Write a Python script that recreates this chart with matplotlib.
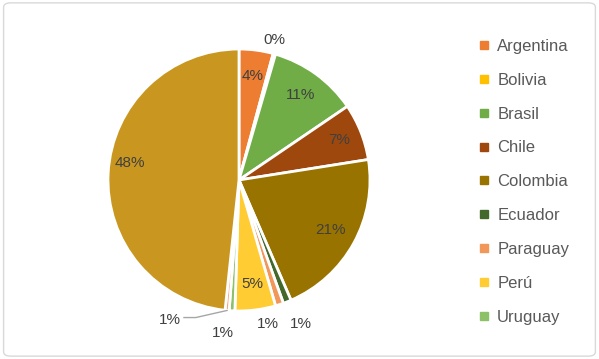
import matplotlib.pyplot as plt
import numpy as np
from matplotlib.lines import Line2D
from matplotlib.patches import FancyBboxPatch

# Datos del gráfico (porcentajes)
paises = ["Argentina", "Bolivia", "Brasil", "Chile", "Colombia",
          "Ecuador", "Paraguay", "Perú", "Uruguay", "Venezuela", "Otros"]
valores = [4.2, 0.3, 11.0, 7.0, 21.0, 1.0, 1.0, 5.0, 0.7, 0.5, 48.3]
etiquetas = ["4%", "0%", "11%", "7%", "21%", "1%", "1%", "5%", "1%", "1%", "48%"]
colores = ["#ED7D31", "#FFC000", "#70AD47", "#9E480E", "#997300",
           "#43682B", "#F1975A", "#FFCD33", "#8CC168", "#F4A47A", "#C9971F"]
# Distancia radial de cada etiqueta (1 = borde del círculo)
dist_etiqueta = [0.80, 1.13, 0.80, 0.82, 0.80, 1.22, 1.14, 0.80, 1.14, 1.10, 0.83]

plt.rcParams["font.family"] = ["Liberation Sans", "DejaVu Sans"]
fig = plt.figure(figsize=(5.99, 3.59), dpi=100)

# Marco del gráfico
marco = FancyBboxPatch((0.006, 0.008), 0.988, 0.984,
                       boxstyle="round,pad=0,rounding_size=0.012",
                       transform=fig.transFigure, facecolor="none",
                       edgecolor="#D9D9D9", linewidth=1, zorder=-1)
fig.patches.append(marco)

ax = fig.add_axes([108/599, 48/359, 262/599, 262/359])
wedges, _ = ax.pie(valores, colors=colores, startangle=90, counterclock=False,
                   radius=1,
                   wedgeprops={"edgecolor": "white", "linewidth": 2})
ax.set_xlim(-1, 1)
ax.set_ylim(-1, 1)
ax.set_aspect("equal")

# Etiquetas de porcentaje
for i, w in enumerate(wedges):
    ang = np.deg2rad((w.theta1 + w.theta2) / 2)
    r = dist_etiqueta[i]
    x, y = r*np.cos(ang), r*np.sin(ang)
    if paises[i] == "Venezuela":
        # Etiqueta con línea guía
        x0, y0 = 1.0*np.cos(ang), 1.0*np.sin(ang)
        ax.plot([x0, -0.33, -0.42], [y0, -1.05, -1.05],
                color="#A6A6A6", lw=1, clip_on=False)
        x, y = -0.53, -1.07
    if paises[i] == "Uruguay":
        x, y = -0.12, -1.17
    if paises[i] == "Paraguay":
        x, y = 0.22, -1.10
    if paises[i] == "Ecuador":
        x, y = 0.47, -1.10
    if paises[i] == "Bolivia":
        x, y = 0.27, 1.07
    if paises[i] == "Otros":
        x, y = -0.83, 0.13
    ax.text(x, y, etiquetas[i], ha="center", va="center",
            fontsize=11, color="#404040")

# Leyenda (solo los nueve primeros países)
handles = [Line2D([], [], marker="s", linestyle="none", markersize=6,
                  markerfacecolor=colores[i], markeredgecolor=colores[i])
           for i in range(9)]
fig.legend(handles, paises[:9], loc="upper left",
           bbox_to_anchor=(463/599, 1 - 24/359), frameon=False,
           fontsize=12, labelspacing=1.13, handlelength=0.7,
           handletextpad=0.45, labelcolor="#595959")

plt.savefig("out.png", dpi=100)
